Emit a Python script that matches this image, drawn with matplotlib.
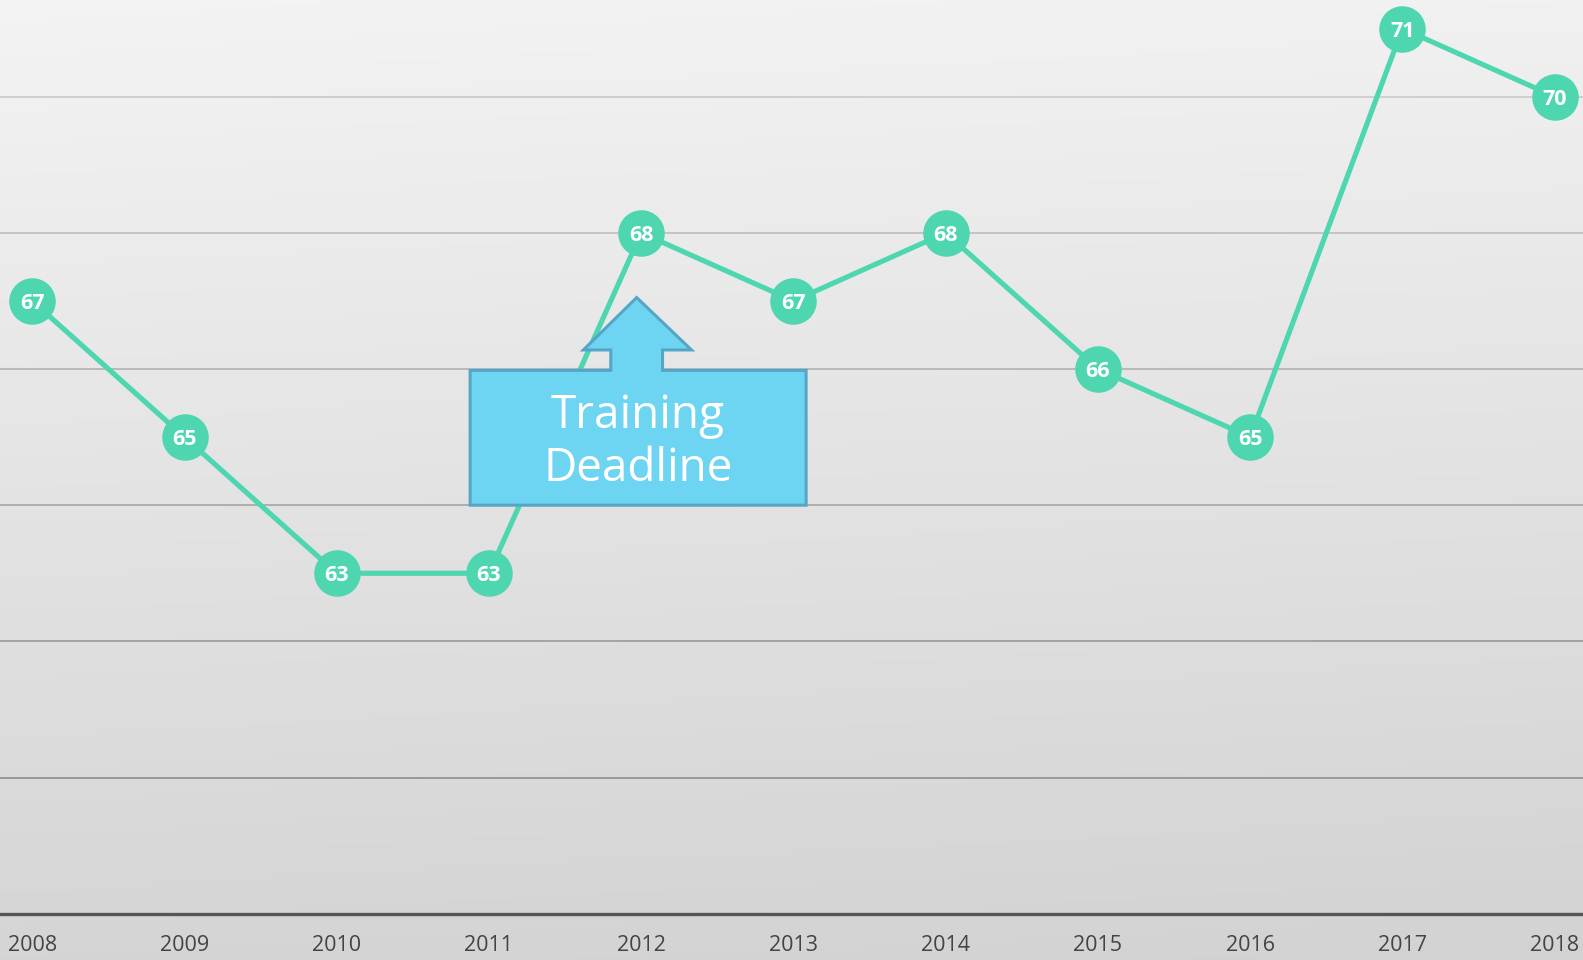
import numpy as np
import matplotlib
matplotlib.use("Agg")
import matplotlib.pyplot as plt
from matplotlib.patches import Polygon

# datos
years = [2008, 2009, 2010, 2011, 2012, 2013, 2014, 2015, 2016, 2017, 2018]
values = [67, 65, 63, 63, 68, 67, 68, 66, 65, 71, 70]
grid_levels = [60, 62, 64, 66, 68, 70]
callout_text = "Training\nDeadline"

line_color = "#4dd6b0"

fig = plt.figure(figsize=(15.83, 9.6), dpi=100)
ax = fig.add_axes([0, 0, 1, 1])
xmin, xmax = 2007.788, 2018.186
ymin, ymax = 57.32, 71.42
ax.set_xlim(xmin, xmax)
ax.set_ylim(ymin, ymax)
ax.axis("off")

# fondo degradado
grad = np.linspace(0, 1, 256).reshape(-1, 1)
gx = np.linspace(0, 1, 64).reshape(1, -1)
g = 0.955 - 0.12 * grad - 0.01 * gx
ax.imshow(np.dstack([g, g, g]), extent=[xmin, xmax, ymin, ymax], origin="upper",
          aspect="auto", zorder=0)

# lineas de cuadricula (mas oscuras hacia abajo)
for lv in grid_levels:
    t = (70 - lv) / 10
    c = 0.80 - 0.22 * t
    ax.axhline(lv, color=(c, c, c), lw=1.3, zorder=1)
ax.axhline(58, color="#555555", lw=2.4, zorder=1)

# etiquetas de los años
for yr in years:
    ax.text(yr, 57.54, str(yr), ha="center", va="center", fontsize=15.5,
            family="Open Sans", color="#444444", zorder=2)

# serie
ax.plot(years, values, color=line_color, lw=3.7, zorder=3,
        marker="o", markersize=33.5, markeredgewidth=0)
for yr, v in zip(years, values):
    ax.text(yr, v, str(v), ha="center", va="center_baseline", fontsize=15.5,
            fontweight="bold", family="Open Sans", color="white", zorder=4)

# llamada "Training Deadline"
cx = 2011.97
box_l, box_r = 2010.876, 2013.083
box_b, box_t = 64.0, 65.98
head_y, apex_y = 66.28, 67.05
head_l, head_r = 2011.62, 2012.33
stem_l, stem_r = 2011.80, 2012.14
pts = [(box_l, box_b), (box_r, box_b), (box_r, box_t), (stem_r, box_t),
       (stem_r, head_y), (head_r, head_y), (cx, apex_y), (head_l, head_y),
       (stem_l, head_y), (stem_l, box_t), (box_l, box_t)]
ax.add_patch(Polygon(pts, closed=True, facecolor="#6dd4f2", edgecolor="#55a6c6",
                     lw=2.2, zorder=5))
ax.text((box_l + box_r) / 2, (box_b + box_t) / 2 - 0.07, callout_text, ha="center",
        va="center", fontsize=33, family="Open Sans", color="white",
        linespacing=1.2, zorder=6)

fig.savefig("out.png", dpi=100)
